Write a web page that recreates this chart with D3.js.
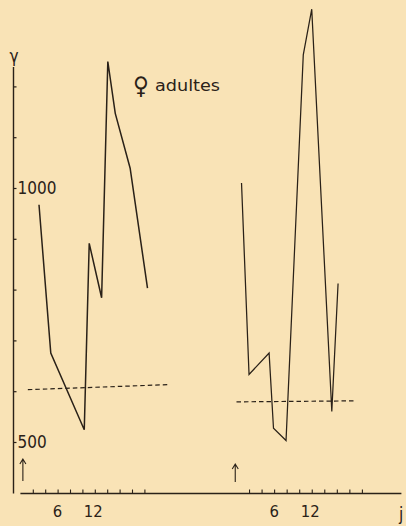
<!DOCTYPE html>
<html><head><meta charset="utf-8">
<script src="https://cdn.jsdelivr.net/npm/d3@7"></script>
<style>
html,body{margin:0;padding:0;background:#f9e3b6;}
svg{display:block;}
text{font-family:"DejaVu Sans Condensed","DejaVu Sans",sans-serif;font-stretch:condensed;fill:#2a2118;}
</style></head><body>
<svg id="c" width="406" height="526"></svg>
<script>
// ---- data ----
const leftDays   = [3.0, 4.9, 10.3, 11.1, 13.1, 14.1, 15.3, 17.7, 20.5];
const leftValues = [967, 675, 524, 891, 784, 1249, 1147, 1039, 803];
const leftBaselineDays   = [1.2, 24.1];
const leftBaselineValues = [603, 613];

const rightDays   = [0.8, 2.0, 5.2, 5.9, 7.9, 10.65, 12.0, 15.2, 16.2];
const rightValues = [1010, 633, 675, 527, 503, 1262, 1352, 560, 812];
const rightBaselineDays   = [0.0, 18.9];
const rightBaselineValues = [579, 581];

const xTickValues = [2, 4, 6, 8, 10, 12, 14, 16, 18, 20];
const xTickLabels = ["6", "12"];          // labelled ticks
const yTickValues = [500, 600, 700, 800, 900, 1000, 1100, 1200];
const yTickLabels = ["500", "1000"];      // labelled ticks
const arrowDays = [0.4, -0.2];
const yAxisLabel = "γ";
const xAxisLabel = "j";
const panelLabel = "adultes";
const panelSymbol = "♀";

// ---- scales ----
const ink = "#2a2118";
const svg = d3.select("#c");
const y = d3.scaleLinear().domain([500, 1000]).range([442, 188]);
const xL = d3.scaleLinear().domain([0, 20]).range([20.4, 144.4]);
const xR = d3.scaleLinear().domain([0, 20]).range([236.5, 361.9]);
const axisY = 493.5;

// y axis
const yAxis = d3.axisRight(y)
  .tickValues(yTickValues)
  .tickSize(3).tickPadding(1)
  .tickFormat(d => yTickLabels.includes(String(d)) ? String(d) : "");
const gy = svg.append("g").attr("transform", "translate(13.5,0)").call(yAxis);
gy.select(".domain").remove();
gy.selectAll(".tick line").attr("stroke", ink).attr("stroke-width", 1.2);
gy.selectAll(".tick text").attr("font-size", 17).attr("fill", ink).attr("font-family", null);
svg.append("line").attr("x1", 13.5).attr("x2", 13.5)
  .attr("y1", y(1238)).attr("y2", axisY).attr("stroke", ink).attr("stroke-width", 1.4);
svg.append("text").attr("x", 14).attr("y", 62).attr("text-anchor", "middle")
  .attr("font-size", 17).text(yAxisLabel);

// x axis baseline (continuous across both panels)
svg.append("line").attr("x1", xL(0)).attr("x2", xR(26.3))
  .attr("y1", axisY).attr("y2", axisY).attr("stroke", ink).attr("stroke-width", 1.4);

function drawXAxis(x) {
  const ax = d3.axisBottom(x).tickValues(xTickValues).tickSize(-4).tickPadding(0)
    .tickFormat(() => "");
  const g = svg.append("g").attr("transform", `translate(0,${axisY})`).call(ax);
  g.select(".domain").remove();
  g.selectAll(".tick line").attr("stroke", ink).attr("stroke-width", 1.1);
  g.selectAll(".lab").data(xTickLabels).enter().append("text")
    .attr("x", d => x(+d) - (d === "12" ? 1.5 : 0)).attr("y", 23.5)
    .attr("text-anchor", "middle").attr("font-size", 16.5).text(d => d);
}
drawXAxis(xL);
drawXAxis(xR);

svg.append("text").attr("x", 399).attr("y", 520).attr("font-size", 17).text(xAxisLabel);

// series
function drawSeries(x, days, vals, w) {
  const line = d3.line().x(d => x(d[0])).y(d => y(d[1]));
  svg.append("path").datum(days.map((d, i) => [d, vals[i]]))
    .attr("d", line).attr("fill", "none").attr("stroke", ink)
    .attr("stroke-width", w).attr("stroke-linejoin", "miter");
}
drawSeries(xL, leftDays, leftValues, 1.5);
drawSeries(xR, rightDays, rightValues, 1.25);

function drawBaseline(x, days, vals) {
  const line = d3.line().x(d => x(d[0])).y(d => y(d[1]));
  svg.append("path").datum(days.map((d, i) => [d, vals[i]]))
    .attr("d", line).attr("fill", "none").attr("stroke", ink)
    .attr("stroke-width", 1.2).attr("stroke-dasharray", "4.5,3");
}
drawBaseline(xL, leftBaselineDays, leftBaselineValues);
drawBaseline(xR, rightBaselineDays, rightBaselineValues);

// arrows
[xL, xR].forEach((x, i) => {
  const ax = x(arrowDays[i]);
  const top = i === 0 ? 459 : 464;
  const bot = i === 0 ? 481 : 482;
  svg.append("path")
    .attr("d", `M${ax},${bot}V${top}M${ax - 3},${top + 5}L${ax},${top}L${ax + 3},${top + 5}`)
    .attr("fill", "none").attr("stroke", ink).attr("stroke-width", 1.1);
});

// panel label
svg.append("text").attr("x", 141).attr("y", 94).attr("text-anchor", "middle")
  .attr("font-size", 24).attr("font-stretch", "normal").text(panelSymbol);
svg.append("text").attr("x", 155).attr("y", 90.5).attr("font-size", 16)
  .attr("font-stretch", "normal").attr("textLength", 65).attr("lengthAdjust", "spacingAndGlyphs")
  .text(panelLabel);
</script>
</body></html>
